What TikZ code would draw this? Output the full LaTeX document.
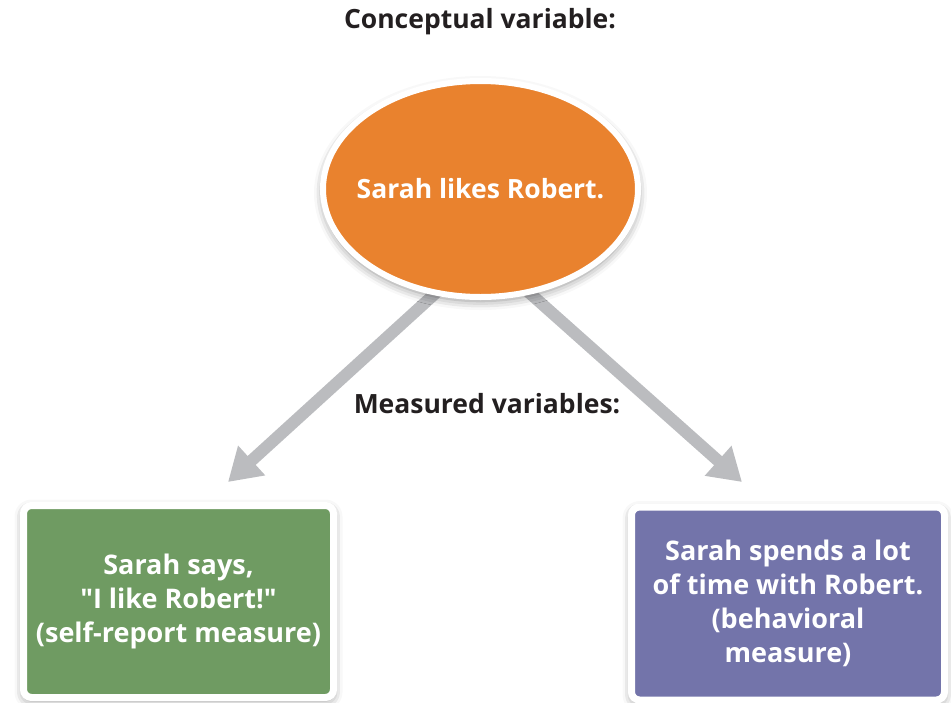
\documentclass[tikz,border=0pt]{standalone}
\usepackage{fontspec}
\setmainfont{Open Sans}[Ligatures=TeXOff]
\usetikzlibrary{arrows.meta,shapes.geometric,shadows.blur}
\definecolor{orng}{HTML}{E9822E}
\definecolor{grn}{HTML}{6F9B62}
\definecolor{purp}{HTML}{7374AA}
\definecolor{arrgray}{HTML}{BBBCBF}
\definecolor{ink}{HTML}{231F20}
\tikzset{
  label/.style={font=\bfseries\fontsize{26.5}{30}\selectfont, text=ink},
  ellnode/.style={ellipse, fill=orng, draw=white, line width=6pt, minimum width=315pt, minimum height=216pt, inner sep=0pt,
     blur shadow={shadow xshift=0pt, shadow yshift=-4pt, shadow blur radius=9pt, shadow opacity=45}},
  elltext/.style={text=white, font=\bfseries\fontsize{26.5}{30}\selectfont, inner sep=0pt},
  boxnode/.style={rectangle, rounded corners=8pt, draw=white, line width=7pt, text=white, align=center,
     font=\bfseries\fontsize{27}{34}\selectfont, inner sep=0pt,
     blur shadow={shadow xshift=0pt, shadow yshift=-3pt, shadow blur radius=9pt, shadow opacity=45}},
  conn/.style={draw=arrgray, line width=12pt, -{Triangle[width=38pt,length=32pt]}}
}
\begin{document}
\begin{tikzpicture}[x=1pt,y=-1pt]
\useasboundingbox (0,0) rectangle (951,702);
\coordinate (ls) at (450,280);
\coordinate (lt) at (228,482);
\coordinate (rs) at (515,280);
\coordinate (rt) at (742,482);
\draw[conn] (ls) -- (lt);
\draw[conn] (rs) -- (rt);
\node[label] (title) at (480,22) {Conceptual variable:};
\node[ellnode] (ell) at (480.5,189) {};
\node[elltext] (elltxt) at (ell.center) {Sarah likes Robert.};
\node[label] (meas) at (487,404) {Measured variables:};
\node[boxnode, fill=grn, minimum width=310pt, minimum height=192pt] (lbox) at (178.5,601.5)
  {Sarah says,\\"I like Robert!"\\(self-report measure)};
\node[boxnode, fill=purp, minimum width=313pt, minimum height=193pt] (rbox) at (788,603.5)
  {Sarah spends a lot\\of time with Robert.\\(behavioral\\measure)};
\end{tikzpicture}
\end{document}
